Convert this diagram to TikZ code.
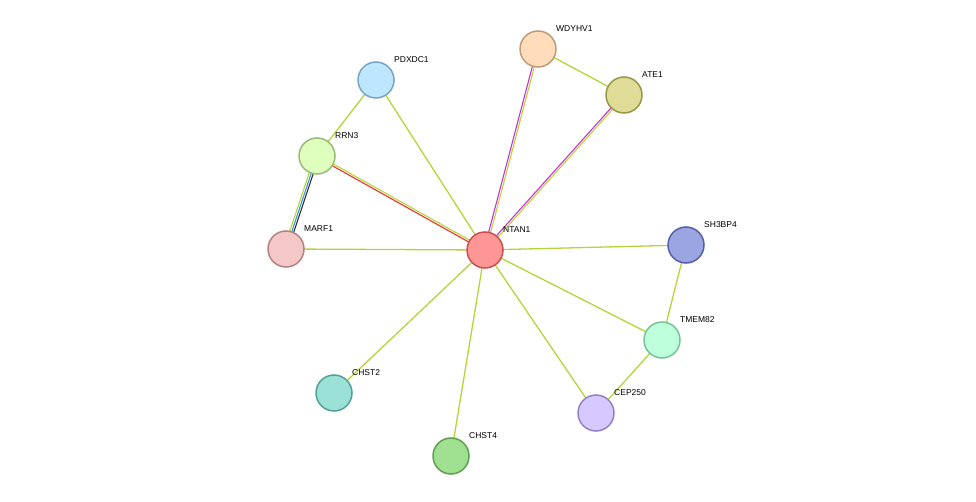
\documentclass[tikz,border=0pt]{standalone}
\usepackage{fontspec}
\setmainfont{Liberation Sans}
\usetikzlibrary{calc}
\definecolor{ev}{RGB}{181,212,58}
\definecolor{mg}{RGB}{200,50,200}
\definecolor{rd}{RGB}{235,50,40}
\definecolor{bl}{RGB}{60,150,220}
\tikzset{prot/.style={circle, line width=1.5pt, minimum size=36pt, inner sep=0pt},
         lbl/.style={anchor=south west, font=\fontsize{8.5pt}{9pt}\selectfont, inner sep=0pt},
         edge/.style={line width=1.3pt, ev}}
\newcommand{\twin}[4]{\draw[line width=1.1pt, #3] ($(#1)!#4!90:(#2)$) -- ($(#2)!#4!-90:(#1)$);}
\begin{document}
\begin{tikzpicture}[x=1pt, y=-1pt]
\useasboundingbox (0,0) rectangle (976,502);
% positions
\coordinate (ntan) at (485,250);
\coordinate (wdy) at (538,49);
\coordinate (ate) at (624,95);
\coordinate (pdx) at (376,80);
\coordinate (rrn) at (317,156);
\coordinate (marf) at (286,249);
\coordinate (sh3) at (686,245);
\coordinate (tmem) at (662,340);
\coordinate (cep) at (596,413);
\coordinate (chst2) at (334,393);
\coordinate (chst4) at (451,456);
% connectors
\foreach \a/\b in {wdy/ate, ntan/pdx, pdx/rrn, marf/ntan, ntan/sh3, sh3/tmem,
                   ntan/tmem, ntan/cep, tmem/cep, ntan/chst2, ntan/chst4}
  \draw[edge] (\a) -- (\b);
\twin{ntan}{wdy}{mg}{1pt}
\twin{ntan}{wdy}{ev}{-1pt}
\twin{ntan}{ate}{mg}{1pt}
\twin{ntan}{ate}{ev}{-1pt}
\twin{ntan}{rrn}{rd}{1pt}
\twin{ntan}{rrn}{ev}{-1pt}
\twin{rrn}{marf}{ev}{-2pt}
\twin{rrn}{marf}{bl}{0pt}
\twin{rrn}{marf}{black!80}{2pt}
% proteins
\node[prot, fill={rgb,255:red,255;green,150;blue,150}, draw={rgb,255:red,200;green,80;blue,80}] (NTAN1) at (ntan) {};
\node[prot, fill={rgb,255:red,255;green,221;blue,187}, draw={rgb,255:red,190;green,155;blue,120}] (WDYHV1) at (wdy) {};
\node[prot, fill={rgb,255:red,222;green,220;blue,150}, draw={rgb,255:red,155;green,150;blue,70}] (ATE1) at (ate) {};
\node[prot, fill={rgb,255:red,190;green,230;blue,255}, draw={rgb,255:red,120;green,165;blue,195}] (PDXDC1) at (pdx) {};
\node[prot, fill={rgb,255:red,222;green,255;blue,190}, draw={rgb,255:red,155;green,185;blue,120}] (RRN3) at (rrn) {};
\node[prot, fill={rgb,255:red,245;green,200;blue,200}, draw={rgb,255:red,180;green,130;blue,130}] (MARF1) at (marf) {};
\node[prot, fill={rgb,255:red,155;green,165;blue,225}, draw={rgb,255:red,85;green,95;blue,165}] (SH3BP4) at (sh3) {};
\node[prot, fill={rgb,255:red,190;green,255;blue,220}, draw={rgb,255:red,120;green,195;blue,150}] (TMEM82) at (tmem) {};
\node[prot, fill={rgb,255:red,215;green,200;blue,255}, draw={rgb,255:red,150;green,130;blue,195}] (CEP250) at (cep) {};
\node[prot, fill={rgb,255:red,155;green,225;blue,215}, draw={rgb,255:red,85;green,160;blue,150}] (CHST2) at (chst2) {};
\node[prot, fill={rgb,255:red,160;green,225;blue,145}, draw={rgb,255:red,95;green,160;blue,80}] (CHST4) at (chst4) {};
% labels
\foreach \n in {NTAN1, WDYHV1, ATE1, PDXDC1, RRN3, MARF1, SH3BP4, TMEM82, CEP250, CHST2, CHST4}
  \node[lbl] at ($(\n)+(18,-17)$) {\n};
\end{tikzpicture}
\end{document}
